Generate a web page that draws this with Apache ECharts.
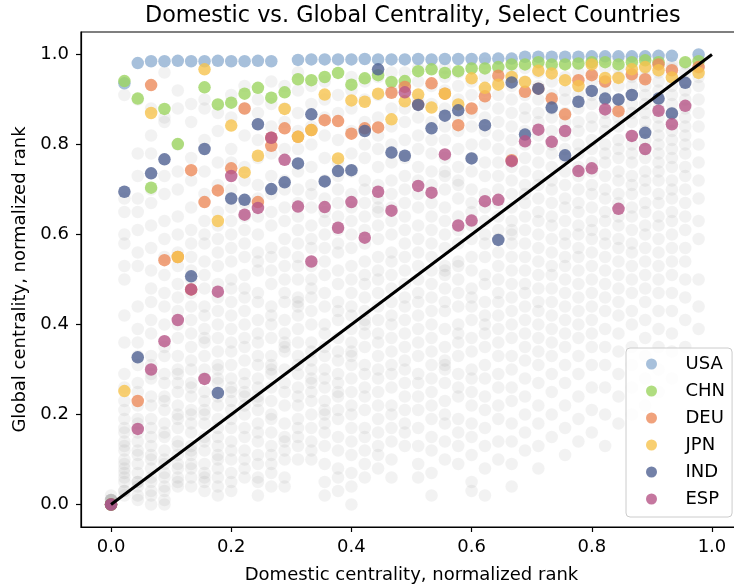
<!DOCTYPE html>
<html>
<head>
<meta charset="utf-8">
<script src="https://cdn.jsdelivr.net/npm/echarts@6/dist/echarts.min.js"></script>
<style>
  html, body { margin: 0; padding: 0; background: #fff; }
  #chart { width: 734px; height: 588px; }
</style>
</head>
<body>
<div id="chart"></div>
<script>
// Number of domestic-rank positions (sectors); x = rank index / RANK_DEN
const RANK_DEN = 45;

// Highlighted countries: [domestic rank index, global normalized rank]
const usa = [[0,0],[1,0.936],[2,0.981],[3,0.985],[4,0.985],[5,0.986],[6,0.985],[7,0.985],[8,0.986],[9,0.985],[10,0.985],[11,0.986],[12,0.985],
  [14,0.988],[15,0.989],[16,0.989],[17,0.989],[18,0.989],[19,0.990],[20,0.989],[21,0.989],[22,0.989],[23,0.990],[24,0.989],[25,0.990],[26,0.990],[27,0.990],[28,0.991],[29,0.991],[30,0.991],
  [31,0.995],[32,0.995],[33,0.995],[34,0.995],[35,0.995],[36,0.996],[37,0.996],[38,0.996],[39,0.996],[40,0.996],[41,0.997],[42,0.997],[44,1.0]];
const chn = [[0,0],[1,0.941],[2,0.902],[3,0.704],[4,0.879],[5,0.801],[7,0.927],[8,0.889],[9,0.893],[10,0.913],[11,0.926],[12,0.904],[13,0.916],[14,0.945],
  [15,0.943],[16,0.950],[17,0.959],[18,0.933],[19,0.947],[20,0.954],[21,0.939],[22,0.941],[23,0.963],[24,0.967],[25,0.959],[26,0.963],[27,0.969],[28,0.969],[29,0.972],[30,0.978],
  [31,0.978],[32,0.983],[33,0.978],[34,0.978],[35,0.980],[36,0.983],[37,0.983],[38,0.978],[39,0.983],[40,0.987],[41,0.983],[43,0.983],[44,0.985]];
const deu = [[0,0],[2,0.230],[3,0.932],[4,0.543],[5,0.550],[6,0.743],[6,0.478],[7,0.672],[8,0.698],[9,0.747],[10,0.880],[11,0.672],[12,0.815],[12,0.797],[13,0.836],[14,0.817],
  [15,0.832],[16,0.854],[17,0.852],[18,0.824],[19,0.836],[20,0.838],[21,0.915],[22,0.928],[23,0.889],[24,0.936],[25,0.913],[26,0.843],[27,0.880],[28,0.907],[29,0.953],[30,0.765],
  [31,0.917],[32,0.924],[33,0.902],[34,0.867],[35,0.943],[36,0.954],[37,0.940],[38,0.874],[39,0.956],[40,0.945],[41,0.978],[42,0.965],[44,0.972]];
const jpn = [[0,0],[1,0.252],[3,0.870],[5,0.550],[7,0.967],[8,0.630],[9,0.842],[10,0.738],[11,0.775],[13,0.879],[14,0.817],[15,0.832],[16,0.911],[17,0.769],[18,0.898],[19,0.895],
  [20,0.913],[21,0.856],[22,0.896],[23,0.911],[24,0.882],[25,0.913],[26,0.889],[27,0.947],[28,0.926],[29,0.933],[30,0.950],[31,0.939],[32,0.964],[33,0.958],[34,0.943],[35,0.930],
  [36,0.978],[37,0.948],[38,0.948],[39,0.967],[40,0.972],[41,0.965],[42,0.949],[44,0.959]];
const ind = [[0,0],[1,0.695],[2,0.327],[3,0.736],[4,0.767],[6,0.507],[7,0.790],[8,0.248],[9,0.680],[10,0.677],[11,0.845],[12,0.701],[13,0.716],[14,0.758],[15,0.867],[16,0.718],
  [17,0.741],[18,0.743],[19,0.830],[20,0.967],[21,0.782],[22,0.775],[23,0.888],[24,0.836],[25,0.864],[26,0.876],[27,0.769],[28,0.843],[29,0.588],[30,0.938],[31,0.822],[32,0.924],
  [33,0.882],[34,0.776],[35,0.895],[36,0.919],[37,0.902],[38,0.900],[39,0.910],[40,0.826],[41,0.902],[42,0.869],[43,0.937]];
const esp = [[0,0],[2,0.168],[3,0.300],[4,0.363],[5,0.410],[6,0.478],[7,0.279],[8,0.473],[9,0.730],[10,0.644],[11,0.659],[12,0.815],[13,0.766],[14,0.662],[15,0.540],[16,0.661],
  [17,0.615],[18,0.672],[19,0.593],[20,0.695],[21,0.653],[22,0.916],[23,0.708],[24,0.693],[25,0.778],[26,0.620],[27,0.631],[28,0.674],[29,0.677],[30,0.763],[31,0.807],[32,0.833],
  [33,0.806],[34,0.830],[35,0.741],[36,0.747],[37,0.878],[38,0.657],[39,0.819],[40,0.790],[41,0.875],[42,0.845],[43,0.886]];

// All other countries, one list per domestic rank index, global rank in hundredths
const otherCountries = [
  [0,0,0,1,1,1,0,1,2,1],
  [2,3,3,5,6,7,8,9,10,12,13,14,16,17,19,21,23,26,29,36,42,50,53,58,60,65,68,91],
  [1,2,4,5,5,7,9,11,12,14,16,18,19,22,25,27,31,33,36,39,44,53,56,61,65,68,73,78,90],
  [0,2,3,5,6,8,10,11,13,15,17,19,22,24,28,29,31,33,38,41,45,48,52,57,62,67,70,78,82,88],
  [0,1,3,4,6,7,9,10,12,15,16,18,21,23,24,27,29,33,35,40,44,47,51,55,59,63,69,73,85,86,96],
  [4,5,6,8,9,11,13,14,17,19,20,22,25,27,29,30,33,37,40,43,46,49,53,56,60,64,70,74,80,88,92],
  [4,6,8,9,11,12,13,16,18,20,21,24,26,27,30,32,35,38,41,44,47,50,52,55,58,61,66,72,77,85,89],
  [3,5,6,7,9,12,14,15,18,20,21,23,25,28,30,33,36,37,39,42,44,48,51,54,58,60,63,69,74,81,88,90],
  [2,4,6,8,10,11,13,15,17,19,22,24,27,28,30,31,34,37,40,43,46,49,53,56,59,62,65,71,76,83,87],
  [3,5,7,10,12,14,17,19,21,23,25,26,28,31,34,36,39,42,45,48,50,54,57,60,63,66,70,76,79,86,91],
  [6,8,10,12,15,17,20,22,24,25,27,29,32,35,37,40,43,46,48,51,55,58,61,64,67,72,75,82,88,93],
  [2,5,6,9,11,14,16,18,21,23,24,26,28,31,33,36,38,41,45,47,52,54,56,60,64,68,71,77,81,87,90],
  [4,7,9,11,13,16,19,20,23,26,29,30,31,33,37,40,42,44,49,52,55,57,62,65,69,73,78,84,89,94],
  [4,6,10,12,14,15,18,22,25,27,30,34,35,36,38,41,45,47,50,53,56,59,63,66,70,72,79,85,88,93],
  [10,13,15,17,19,22,24,26,29,31,33,36,39,42,44,45,46,50,53,55,58,61,64,67,70,74,79,83,87,92,96],
  [10,12,14,17,20,23,25,27,28,30,32,34,36,40,43,46,48,50,53,57,59,62,66,69,71,75,80,84,89,93],
  [2,5,9,13,16,18,20,21,23,26,28,30,33,35,38,40,44,47,51,54,57,60,63,65,68,72,77,82,86,90,94],
  [3,6,8,12,15,19,21,24,25,27,29,32,34,37,41,43,45,49,52,56,58,61,64,67,70,73,76,81,87,91],
  [0,4,7,11,14,17,20,22,25,28,31,33,34,36,39,42,44,47,50,53,57,60,63,66,69,74,78,83,88,92,95],
  [6,9,12,15,17,21,24,26,29,31,35,38,40,41,43,46,49,51,54,58,61,64,67,70,72,77,80,85,90,94],
  [8,11,13,16,19,22,25,28,30,33,36,38,41,44,47,50,52,55,59,62,65,66,68,71,75,79,82,86,91,95],
  [6,10,14,17,20,22,26,29,31,34,37,40,42,45,48,51,54,56,60,63,66,69,72,76,80,84,88,92,96],
  [13,16,18,21,24,27,30,32,35,38,41,44,46,49,52,55,58,61,64,67,70,73,77,81,85,88,93,96],
  [6,9,13,17,21,24,27,29,33,36,39,42,45,47,50,53,56,59,62,66,69,72,75,79,82,86,90,94,97],
  [2,7,12,15,19,22,25,28,31,34,37,40,43,46,49,52,55,58,61,64,67,71,74,78,81,85,89,93,97],
  [10,14,18,20,23,27,30,31,32,35,39,43,45,48,51,52,53,57,60,63,66,70,73,74,77,81,84,88,92,95,97],
  [9,13,16,19,24,26,29,33,36,38,40,44,47,50,53,54,58,61,64,68,71,72,75,79,83,86,90,93,96],
  [3,5,11,15,18,22,25,28,30,34,37,41,44,46,48,52,55,59,62,65,67,70,74,77,80,84,87,91,94,97],
  [2,8,13,17,21,24,28,31,35,38,40,42,45,49,51,55,58,60,63,66,69,73,76,80,83,86,89,92,95,98],
  [10,14,19,22,26,29,33,36,39,42,45,47,50,53,56,59,61,64,67,70,73,76,79,82,85,88,91,94,97],
  [4,9,14,18,23,26,30,33,37,40,43,46,49,52,55,58,60,61,63,66,69,72,75,78,81,84,87,90,93,96,98],
  [12,16,20,24,28,32,35,38,41,44,47,49,52,55,58,61,64,67,69,71,74,77,80,83,86,88,91,94,97],
  [8,13,18,22,27,31,34,37,40,43,45,48,51,54,57,60,63,65,68,71,73,76,79,82,85,87,90,93,96,98],
  [15,20,25,29,33,36,39,42,45,48,51,53,56,59,62,64,67,70,72,75,78,80,83,86,88,91,94,97],
  [11,17,22,27,31,35,38,41,44,47,50,53,55,58,60,63,66,68,71,74,77,79,82,85,87,90,92,95,98],
  [14,19,24,29,33,37,40,43,46,49,52,55,57,60,62,65,67,70,73,75,78,80,83,85,88,91,93,96,98],
  [16,21,26,31,35,38,41,44,47,50,53,56,59,61,63,66,69,71,74,76,79,81,84,86,89,91,94,96,98],
  [13,20,26,31,35,39,43,46,49,52,55,58,60,63,65,68,70,73,76,78,80,83,85,87,89,92,94,97,99],
  [18,24,29,34,38,42,45,48,51,54,57,59,62,64,67,69,72,74,77,79,81,84,86,88,90,93,95,97,99],
  [20,26,31,35,40,43,47,50,53,56,58,61,64,66,69,71,73,76,78,80,82,85,87,89,91,93,95,97,99],
  [22,28,33,37,41,45,48,51,54,57,60,62,65,67,70,72,74,77,79,81,83,85,87,89,91,93,95,97,99],
  [25,30,35,39,43,47,50,53,56,59,62,64,67,69,72,74,76,78,80,82,84,86,88,90,92,94,96,98],
  [28,34,38,43,47,51,54,57,60,63,65,68,70,72,75,77,79,81,83,85,87,89,91,93,95,97,98],
  [35,41,46,50,54,57,61,64,67,70,73,75,78,80,82,84,86,88,90,92,94,96,98],
  [39,44,50,59,63,68,72,76,80,84,87,90,93,95,97,99]
];

const countryNames = ['USA', 'CHN', 'DEU', 'JPN', 'IND', 'ESP'];
const countryData = [usa, chn, deu, jpn, ind, esp];
const countryColors = ['#91b0d2', '#9cd460', '#ec8b5b', '#f6c34e', '#506292', '#b75587'];

const axisTicks = [0, 0.2, 0.4, 0.6, 0.8, 1.0];
const titleText = 'Domestic vs. Global Centrality, Select Countries';
const xName = 'Domestic centrality, normalized rank';
const yName = 'Global centrality, normalized rank';

const FONT = 'DejaVu Sans';

const greyPoints = [];
otherCountries.forEach((col, k) => {
  col.forEach(v => greyPoints.push([k / RANK_DEN, v / 100]));
});

const series = [{
  name: 'others',
  type: 'scatter',
  data: greyPoints,
  symbolSize: 12.5,
  itemStyle: { color: '#808080', opacity: 0.1 },
  silent: true,
  z: 1
}];
countryNames.forEach((name, i) => {
  series.push({
    name: name,
    type: 'scatter',
    data: countryData[i].map(p => [p[0] / RANK_DEN, p[1]]),
    symbolSize: 12.5,
    itemStyle: { color: countryColors[i], opacity: 0.8 },
    z: 2
  });
});
series.push({
  name: 'diagonal',
  type: 'line',
  data: [[0, 0], [1, 1]],
  symbol: 'none',
  lineStyle: { color: '#000', width: 3 },
  silent: true,
  z: 5
});

function axisCommon(name, gap, labelMargin) {
  return {
    type: 'value',
    min: -0.05,
    max: 1.05,
    splitLine: { show: false },
    axisLine: { show: true, onZero: false, lineStyle: { color: '#000', width: 1.2 } },
    axisTick: { show: true, length: 5, customValues: axisTicks, lineStyle: { color: '#000', width: 1.2 } },
    axisLabel: {
      customValues: axisTicks,
      formatter: v => v.toFixed(1),
      fontSize: 18, fontFamily: FONT, color: '#000', margin: labelMargin
    },
    name: name,
    nameLocation: 'middle',
    nameGap: gap,
    nameTextStyle: { fontSize: 18, fontFamily: FONT, color: '#000' }
  };
}

const chart = echarts.init(document.getElementById('chart'), null, { renderer: 'canvas' });
chart.setOption({
  animation: false,
  backgroundColor: '#fff',
  title: {
    text: titleText,
    left: 145,
    top: 5,
    padding: 0,
    textStyle: { fontSize: 22.3, fontWeight: 'normal', fontFamily: FONT, color: '#000' }
  },
  grid: {
    left: 81, top: 32, width: 661, height: 495,
    outerBoundsMode: 'none',
    show: true, borderColor: '#000', borderWidth: 1.2, backgroundColor: 'transparent',
    containLabel: false
  },
  xAxis: axisCommon(xName, 39, 11),
  yAxis: axisCommon(yName, 50, 12),
  legend: {
    data: countryNames,
    orient: 'vertical',
    left: 626,
    top: 348,
    padding: [7, 7, 9, 20],
    itemWidth: 12,
    itemHeight: 11,
    itemGap: 9,
    icon: 'circle',
    backgroundColor: 'rgba(255,255,255,0.8)',
    borderColor: '#cccccc',
    borderWidth: 1,
    borderRadius: 4,
    textStyle: { fontSize: 18, fontFamily: FONT, color: '#000', lineHeight: 18, padding: [0, 0, 0, 23] }
  },
  series: series
});
</script>
</body>
</html>
